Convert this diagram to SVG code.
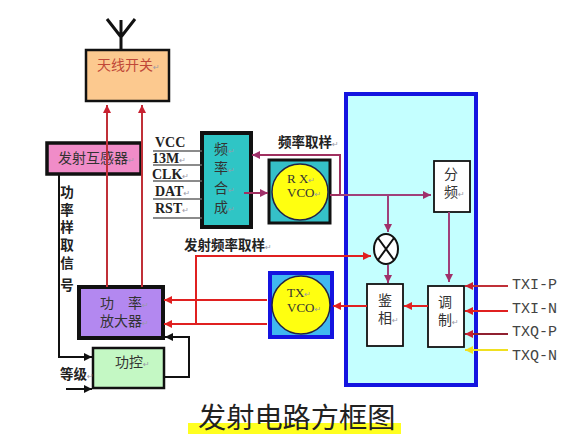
<svg xmlns="http://www.w3.org/2000/svg" width="575" height="446" viewBox="0 0 575 446">
<style>
text{font-family:"Noto Sans CJK SC","Liberation Sans",sans-serif;fill:#333}
.r{fill:#9a9aa8;font-family:"DejaVu Sans",sans-serif;font-size:8px;font-weight:400}
.n{font-size:14px}
.b{font-size:13.5px;font-weight:700;fill:#222}
.s{font-family:"Liberation Serif",serif;font-weight:700;font-size:14px;fill:#222}
.m{font-family:"Liberation Serif",serif;font-size:13px;fill:#333}
.t{font-family:"Liberation Mono",monospace;font-size:15px;fill:#444}
.l{fill:none;stroke-width:2}
.red{stroke:#e02020}.dr{stroke:#c03038}.pu{stroke:#a0407a}.bk{stroke:#111}
</style>
<defs>
<marker id="ared" markerUnits="userSpaceOnUse" markerWidth="10" markerHeight="10" refX="8" refY="4" orient="auto"><path d="M0 0L8 4L0 8z" fill="#e02020"/></marker>
<marker id="adr" markerUnits="userSpaceOnUse" markerWidth="10" markerHeight="10" refX="8" refY="4" orient="auto"><path d="M0 0L8 4L0 8z" fill="#c82030"/></marker>
<marker id="apu" markerUnits="userSpaceOnUse" markerWidth="10" markerHeight="10" refX="8" refY="4" orient="auto"><path d="M0 0L8 4L0 8z" fill="#a0306a"/></marker>
<marker id="abk" markerUnits="userSpaceOnUse" markerWidth="10" markerHeight="10" refX="8" refY="4" orient="auto"><path d="M0 0L8 4L0 8z" fill="#111"/></marker>
<marker id="aye" markerUnits="userSpaceOnUse" markerWidth="10" markerHeight="10" refX="8" refY="4" orient="auto"><path d="M0 0L8 4L0 8z" fill="#f0e020"/></marker>
</defs>
<rect width="575" height="446" fill="#fff"/>
<g id="baseband"><rect x="346" y="94" width="130" height="291" fill="#c4ffff" stroke="#1414e0" stroke-width="4"/></g>
<g id="antenna"><path d="M107 19L121 37L135 19M121 20V50" fill="none" stroke="#111" stroke-width="3"/></g>
<g id="antenna-switch"><rect x="86" y="50" width="83" height="51" fill="#fcc98f" stroke="#111" stroke-width="2.5"/><text x="97" y="70" class="n" style="fill:#c04838">天线开关<tspan class="r">↵</tspan></text></g>
<g id="tx-coupler"><rect x="47" y="143" width="94" height="31" fill="#f08cc8" stroke="#111" stroke-width="3.5"/><text x="58" y="163" class="n">发射互感器<tspan class="r">↵</tspan></text></g>
<g id="synth"><rect x="202" y="133" width="49" height="94" fill="#2fc5c5" stroke="#111" stroke-width="4"/>
<text class="n"><tspan x="214" y="154">频</tspan><tspan class="r">↵</tspan><tspan x="214" y="173">率</tspan><tspan class="r">↵</tspan><tspan x="214" y="193">合</tspan><tspan class="r">↵</tspan><tspan x="214" y="212">成</tspan><tspan class="r">↵</tspan></text></g>
<g id="rx-vco"><rect x="269" y="160" width="61" height="63" fill="#35c0c8" stroke="#111" stroke-width="3"/><circle cx="300" cy="192" r="28" fill="#ffff10" stroke="#224" stroke-width="1.5"/><text class="m"><tspan x="287" y="183">R X</tspan><tspan class="r">↵</tspan><tspan x="287" y="197">VCO</tspan><tspan class="r">↵</tspan></text></g>
<g id="tx-vco"><rect x="270" y="273" width="62" height="64" fill="#40b8f0" stroke="#1414e0" stroke-width="4"/><circle cx="301" cy="305" r="29" fill="#ffff10" stroke="#224" stroke-width="1.5"/><text class="m"><tspan x="287" y="297">TX</tspan><tspan class="r">↵</tspan><tspan x="287" y="312">VCO</tspan><tspan class="r">↵</tspan></text></g>
<g id="pa"><rect x="79" y="287" width="84" height="51" fill="#b388f0" stroke="#111" stroke-width="4"/><text class="n"><tspan x="100" y="308">功</tspan><tspan dx="14">率</tspan><tspan class="r">↵</tspan><tspan x="100" y="326">放大器</tspan><tspan class="r">↵</tspan></text></g>
<g id="power-ctrl"><rect x="93" y="348" width="71" height="40" fill="#c4f8c4" stroke="#111" stroke-width="2.5"/><text x="115" y="367" class="n">功控<tspan class="r">↵</tspan></text></g>
<g id="divider"><rect x="434" y="161" width="36" height="51" fill="#fff" stroke="#111" stroke-width="1.8"/><text class="n"><tspan x="444" y="179">分</tspan><tspan x="444" y="197">频</tspan><tspan class="r">↵</tspan></text></g>
<g id="mixer"><ellipse cx="386" cy="249" rx="12" ry="15" fill="#fff" stroke="#111" stroke-width="2"/><path d="M378 238L394 260M394 238L378 260" stroke="#111" stroke-width="2"/></g>
<g id="pd"><rect x="367" y="284" width="36" height="62" fill="#fff" stroke="#111" stroke-width="1.8"/><text class="n"><tspan x="378" y="305">鉴</tspan><tspan x="378" y="323">相</tspan><tspan class="r">↵</tspan></text></g>
<g id="mod"><rect x="428" y="286" width="36" height="61" fill="#fff" stroke="#111" stroke-width="1.8"/><text class="n"><tspan x="438" y="307">调</tspan><tspan x="438" y="325">制</tspan><tspan class="r">↵</tspan></text></g>
<g id="connectors">
<path class="l dr" d="M107 287V105" marker-end="url(#adr)"/><path class="l dr" d="M142 287V105" marker-end="url(#adr)"/>
<path class="l pu" style="stroke:#a03060" d="M330 195H340V155H252" marker-end="url(#apu)"/>
<path class="l pu" style="stroke:#a03060" d="M244 193H268" marker-end="url(#apu)"/>
<path class="l pu" d="M340 195H431" marker-end="url(#apu)"/>
<path class="l pu" d="M388 195V232" marker-end="url(#apu)"/><path class="l pu" d="M388 265V283" marker-end="url(#apu)"/><path class="l pu" d="M449 212V282" marker-end="url(#apu)"/>
<path class="l red" d="M196 325V256H371" marker-end="url(#ared)"/>
<path class="l red" d="M267 300H164" marker-end="url(#ared)"/><path class="l red" d="M267 324H164" marker-end="url(#ared)"/>
<path class="l red" d="M367 306H333" marker-end="url(#ared)"/><path class="l red" d="M428 306H404" marker-end="url(#ared)"/>
<path class="l dr" d="M508 286H465" marker-end="url(#adr)"/><path class="l red" d="M508 311H465" marker-end="url(#ared)"/>
<path class="l" stroke="#902030" d="M508 334H465" marker-end="url(#adr)"/><path class="l" stroke="#f0e020" d="M508 350H465" marker-end="url(#aye)"/>
<path class="l bk" d="M59 174V357H92" marker-end="url(#abk)"/><path class="l bk" d="M164 377H189V337H165" marker-end="url(#abk)"/><path class="l bk" d="M66 389H92" marker-end="url(#abk)"/>
<path fill="none" stroke="#666" stroke-width="1.5" d="M153 151H202M153 165H202M153 181H202M153 199H202M153 218H202"/>
</g>
<g id="labels">
<text class="s"><tspan x="155" y="147">VCC</tspan><tspan x="152" y="163">13M</tspan><tspan class="r">↵</tspan><tspan x="152" y="179">CLK</tspan><tspan class="r">↵</tspan><tspan x="155" y="196">DAT</tspan><tspan class="r">↵</tspan><tspan x="155" y="213">RST</tspan><tspan class="r">↵</tspan></text>
<text x="278" y="147" class="b">频率取样<tspan class="r">↵</tspan></text><text x="184" y="250" class="b">发射频率取样<tspan class="r">↵</tspan></text>
<text x="67" y="185" class="b" style="writing-mode:vertical-rl;letter-spacing:4.2px">功率样取信<tspan dy="4">号</tspan></text>
<text x="60" y="379" class="b">等级<tspan class="r">↵</tspan></text>
<text class="t"><tspan x="512" y="289">TXI-P</tspan><tspan x="512" y="313">TXI-N</tspan><tspan x="512" y="336">TXQ-P</tspan><tspan x="512" y="360">TXQ-N</tspan></text>
</g>
<g id="title"><rect x="188" y="423" width="213" height="11" fill="#ffff20"/><text x="198" y="428" style="font-size:28.2px;fill:#222">发射电路方框图</text></g>
</svg>
